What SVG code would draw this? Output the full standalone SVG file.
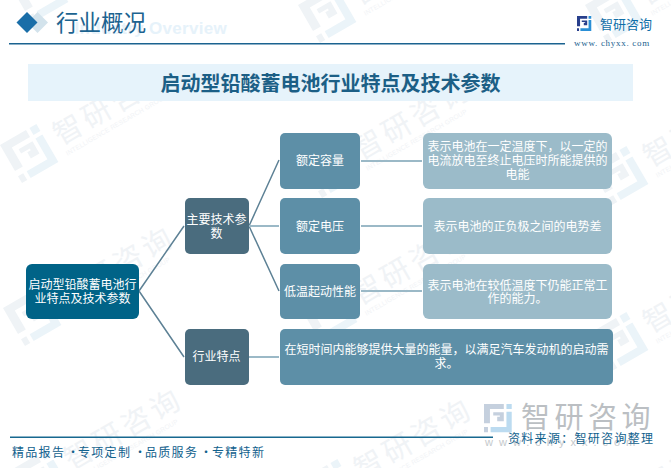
<svg xmlns="http://www.w3.org/2000/svg" width="671" height="468" viewBox="0 0 671 468">
<style>
text{font-family:"Noto Sans CJK SC","Liberation Sans",sans-serif}
.w{fill:#fff;font-size:12px;text-anchor:middle}
.c{fill:none}
.d{stroke:#5d8195;stroke-width:1.500}.l{stroke:#9bb9c7;stroke-width:2}
.wm{fill:#f0f3f6;font-size:29px;letter-spacing:4px}
.we{fill:#f1f3f6;font-size:6.500px;font-family:"Liberation Sans",sans-serif;letter-spacing:.2px}
.f{fill:#11618d;font-size:12px;letter-spacing:1.300px}
</style>
<defs>
<path id="ml" d="M0 0H30V8H9V30H0zM14 13H30V27H20V20H24V18H14zM0 36H6V44H0z"/>
<path id="mr" d="M34 0H42V8H34zM34 12H42V44H10V36H34z"/>
<g id="wmk"><use href="#ml" fill="#eff3f6"/><use href="#mr" fill="#ebf4f9"/><text class="wm" x="52" y="31">智研咨询</text><text class="we" x="53" y="43">INTELLIGENCE RESEARCH GROUP</text></g>
</defs>
<rect width="671" height="468" fill="#fff"/>
<g id="watermarks">
<use href="#wmk" transform="translate(10 -15) rotate(-30)"/>
<use href="#wmk" transform="translate(298 5) rotate(-30)"/>
<use href="#wmk" transform="translate(585 5) rotate(-30)"/>
<use href="#wmk" transform="translate(0 145) rotate(-30)"/>
<use href="#wmk" transform="translate(300 160) rotate(-30)"/>
<use href="#wmk" transform="translate(590 167) rotate(-30)"/>
<use href="#wmk" transform="translate(3 308) rotate(-30)"/>
<use href="#wmk" transform="translate(299 305) rotate(-30)"/>
<use href="#wmk" transform="translate(590 333) rotate(-30)"/>
<use href="#wmk" transform="translate(11 470) rotate(-30)"/>
<use href="#wmk" transform="translate(301 480) rotate(-30)"/>
<use href="#wmk" transform="translate(590 497) rotate(-30)"/>
</g>
<g id="header">
<path d="M37.500 12l10.500 10.500-10.500 10.500-10.500-10.500z" fill="#d3e3ec"/>
<path d="M27 12l10.500 10.500-10.500 10.500-10.500-10.500z" fill="#1a6ea8"/>
<text x="227" y="34" font-size="17" font-weight="700" fill="#e6f2fa" text-anchor="end" style="font-family:'Liberation Sans',sans-serif" letter-spacing="0.300">Industry Overview</text>
<text x="56" y="31" font-size="22.500" fill="#1c6390">行业概况</text>
<rect x="9" y="43" width="556" height="1.500" fill="#1b6390"/>
<g id="logo"><use href="#ml" transform="translate(577 16) scale(.34)" fill="#283f8c"/><use href="#mr" transform="translate(577 16) scale(.34)" fill="#2a8fd6"/></g>
<text x="600" y="29" font-size="13" fill="#0f6ea8">智研咨询</text>
<text x="574" y="46" font-size="9" fill="#1b6390" letter-spacing="0.700" style="font-family:'Liberation Serif',serif">www. chyxx. com</text>
</g>
<g id="title">
<rect x="28" y="64" width="605" height="37" fill="#e6f3fb"/>
<text x="330.500" y="91" font-size="20" font-weight="700" fill="#1c5f86" text-anchor="middle">启动型铅酸蓄电池行业特点及技术参数</text>
</g>
<g id="connectors">
<path class="c d" d="M139 291L184 226M139 291L184 357M249 226L279 160M249 226L279 291"/>
<path class="c l" d="M249 226H279M249 357H279M361 161H422M361 226H422M361 291H422"/>
</g>
<g id="root"><rect x="26" y="264" width="113" height="55" rx="6" fill="#006387"/><text class="w" x="82.500" y="288.500">启动型铅酸蓄电池行</text><text class="w" x="82.500" y="302.500">业特点及技术参数</text></g>
<g id="n-params"><rect x="185" y="198" width="64" height="56" rx="5" fill="#4a6c7e"/><text class="w" x="216.500" y="223.500">主要技术参</text><text class="w" x="216.500" y="237.500">数</text></g>
<g id="n-features"><rect x="185" y="329" width="64" height="56" rx="5" fill="#4a6c7e"/><text class="w" x="216.500" y="360.500">行业特点</text></g>
<g id="n-capacity"><rect x="280" y="133" width="80" height="56" rx="5" fill="#5d8fa7"/><text class="w" x="320" y="164.500">额定容量</text></g>
<g id="n-voltage"><rect x="280" y="198" width="80" height="56" rx="5" fill="#5d8fa7"/><text class="w" x="320" y="230.500">额定电压</text></g>
<g id="n-cold"><rect x="280" y="264" width="80" height="55" rx="5" fill="#5d8fa7"/><text class="w" x="320" y="295.500">低温起动性能</text></g>
<g id="n-feature-text"><rect x="280" y="329" width="333" height="56" rx="5" fill="#5d8fa7"/><text class="w" x="446.500" y="353.500">在短时间内能够提供大量的能量，以满足汽车发动机的启动需</text><text class="w" x="446.500" y="367.500">求。</text></g>
<g id="n-capacity-text"><rect x="423" y="133" width="189" height="56" rx="6" fill="#9bbbc9"/><text class="w" x="517.500" y="150.500">表示电池在一定温度下，以一定的</text><text class="w" x="517.500" y="164.500">电流放电至终止电压时所能提供的</text><text class="w" x="517.500" y="178.500">电能</text></g>
<g id="n-voltage-text"><rect x="423" y="198" width="189" height="56" rx="6" fill="#9bbbc9"/><text class="w" x="517.500" y="230.500">表示电池的正负极之间的电势差</text></g>
<g id="n-cold-text"><rect x="423" y="264" width="189" height="55" rx="6" fill="#9bbbc9"/><text class="w" x="517.500" y="289.500">表示电池在较低温度下仍能正常工</text><text class="w" x="517.500" y="302.500">作的能力。</text></g>
<g id="footer">
<g id="logo-gray"><use href="#ml" transform="translate(484 404) scale(.66 .64)" fill="#c5d0de"/><use href="#mr" transform="translate(484 404) scale(.66 .64)" fill="#bcdbf0"/></g>
<text x="521" y="428" font-size="29" fill="#bbbfc3" letter-spacing="4.500">智研咨询</text>
<text x="485" y="446" font-size="11" fill="#c5c9cc" letter-spacing="6" style="font-family:'Liberation Sans',sans-serif">www.chyxx.com</text>
<rect x="10" y="436.500" width="483" height="1.500" fill="#17688f"/>
<text class="f" x="508" y="443">资料来源：智研咨询整理</text>
<text class="f" y="457"><tspan x="12">精品报告</tspan><tspan x="67">·</tspan><tspan x="78">专项定制</tspan><tspan x="134">·</tspan><tspan x="145">品质服务</tspan><tspan x="200">·</tspan><tspan x="212">专精特新</tspan></text>
</g>
</svg>
